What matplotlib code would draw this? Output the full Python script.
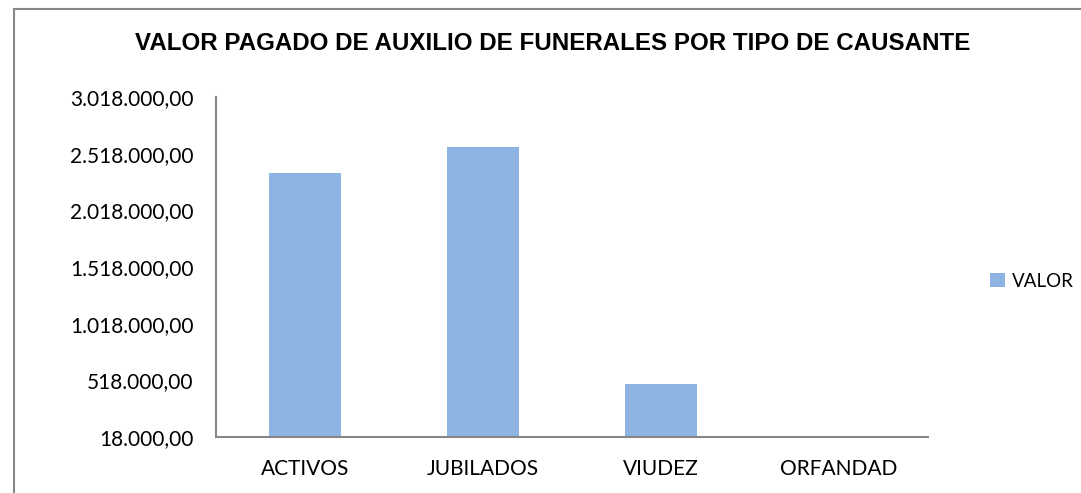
import matplotlib.pyplot as plt
from matplotlib.ticker import FuncFormatter
from matplotlib.patches import Rectangle
import numpy as np

categorias = ['ACTIVOS', 'JUBILADOS', 'VIUDEZ', 'ORFANDAD']
valores = [2347000, 2577000, 486000, 0]
serie = 'VALOR'
y_ticks = [18000, 518000, 1018000, 1518000, 2018000, 2518000, 3018000]

color_barra = '#8EB4E3'
gris = '#868686'


def fmt_es(v, pos=None):
    s = '{:,.2f}'.format(v)
    return s.replace(',', 'X').replace('.', ',').replace('X', '.')


fig = plt.figure(figsize=(10.81, 4.93), dpi=100)
ax = fig.add_axes([0.1998, 0.1136, 0.6587, 0.6896])

x = np.arange(len(categorias))
ax.bar(x, valores, width=0.4, color=color_barra, label=serie)

ax.set_xlim(-0.5, len(categorias) - 0.5)
ax.set_ylim(y_ticks[0], y_ticks[-1])
ax.set_yticks(y_ticks)
ax.yaxis.set_major_formatter(FuncFormatter(fmt_es))
ax.set_xticks(x)
ax.set_xticklabels(categorias)

for s in ['top', 'right']:
    ax.spines[s].set_visible(False)
for s in ['left', 'bottom']:
    ax.spines[s].set_color(gris)
    ax.spines[s].set_linewidth(1.5)
ax.tick_params(axis='both', length=0, labelsize=15, colors='black')
ax.tick_params(axis='y', pad=16)
ax.tick_params(axis='x', pad=16)
for lbl in ax.get_xticklabels() + ax.get_yticklabels():
    lbl.set_family('Lato')

fig.text(0.511, 0.912, 'VALOR PAGADO DE AUXILIO DE FUNERALES POR TIPO DE CAUSANTE',
         ha='center', va='center', fontsize=17.4, fontweight='bold',
         family='Liberation Sans')

leg = fig.legend(loc='center left', bbox_to_anchor=(0.9, 0.43), frameon=False,
                 prop={'family': 'Lato', 'size': 13.5}, handlelength=0.8,
                 handleheight=0.8, handletextpad=0.4)

# marco exterior del grafico
fig.add_artist(Rectangle((14 / 1081, -0.1), 1.2, (493 - 9) / 493 + 0.1,
                         transform=fig.transFigure, fill=False,
                         edgecolor=gris, linewidth=1.5))

fig.savefig('out.png', dpi=100)
